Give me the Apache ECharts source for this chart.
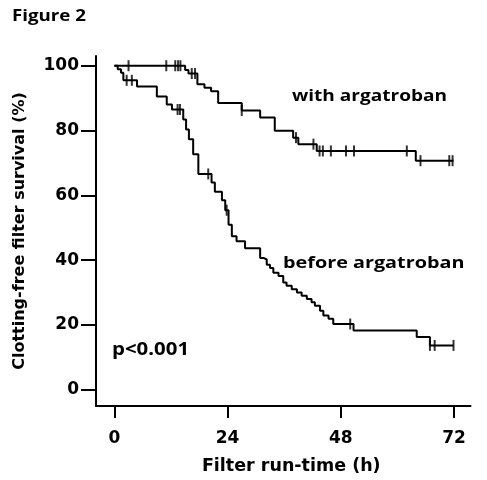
<!DOCTYPE html>
<html>
<head>
<meta charset="utf-8">
<script src="https://cdn.jsdelivr.net/npm/echarts@6/dist/echarts.min.js"></script>
<style>
html,body{margin:0;padding:0;background:#fff;}
#c{width:487px;height:480px;}
</style>
</head>
<body>
<div id="c"></div>
<script>
// X-axis tick labels (hours) and Y-axis tick labels (%)
var xTicks = [0, 24, 48, 72];
var yTicks = [0, 20, 40, 60, 80, 100];

// "with argatroban" Kaplan-Meier steps (time h, survival % after step)
var argTime = [0, 15.0, 15.7, 17.6, 19.1, 20.5, 22.0, 27.0, 30.9, 34.0, 37.9, 39.0, 42.9, 63.9, 71.9];
var argSurv = [100, 98.7, 97.6, 94.3, 93.2, 92.1, 88.5, 86.2, 84.0, 79.9, 77.8, 75.8, 73.7, 70.7, 70.7];
var argCensor = [3.0, 11.0, 12.9, 13.5, 14.0, 16.4, 17.1, 27.0, 38.5, 42.2, 43.5, 44.2, 45.9, 49.1, 50.8, 62.0, 64.9, 71.0, 71.7];

// "before argatroban" Kaplan-Meier steps
var befTime = [0, 0.7, 1.4, 1.9, 4.8, 9.0, 11.1, 12.2, 14.6, 15.2, 15.8, 16.7, 17.8, 20.6, 21.3, 22.8, 23.5, 24.2, 24.9, 25.9, 27.7, 30.9, 31.6, 32.3, 33.0, 33.7, 34.8, 35.8, 36.5, 37.6, 38.7, 39.7, 40.8, 41.8, 42.5, 43.6, 44.3, 45.4, 46.4, 50.7, 64.1, 66.9, 71.9];
var befSurv = [100, 98.9, 97.8, 95.5, 93.6, 90.5, 88.0, 86.5, 83.4, 80.3, 77.3, 72.7, 66.6, 64.0, 61.1, 58.5, 55.4, 50.9, 47.4, 45.8, 43.7, 40.7, 40.2, 38.6, 37.6, 36.1, 35.1, 33.1, 32.1, 31.0, 30.0, 29.0, 28.0, 27.0, 25.9, 24.4, 22.9, 21.9, 20.3, 18.3, 16.3, 13.7, 13.7];
var befCensor = [2.6, 3.7, 13.4, 13.9, 19.9, 23.8, 50.0, 66.9, 67.9, 71.9];

function zip(t, s) { return t.map(function (v, i) { return [v, s[i]]; }); }
function survAt(t, s, x) {
  var v = s[0];
  for (var i = 0; i < t.length; i++) { if (t[i] <= x) v = s[i]; }
  return v;
}
function marks(c, t, s) { return c.map(function (x) { return [x, survAt(t, s, x)]; }); }

var AX_FONT = '"DejaVu Sans", sans-serif';
var TXT_FONT = '"Open Sans", sans-serif';
var chart = echarts.init(document.getElementById('c'), null, {renderer: 'canvas'});
var lineStyle = {color: '#000', width: 2};
var censorStyle = {
  type: 'scatter', symbol: 'rect', symbolSize: [2, 11],
  itemStyle: {color: '#000'}, silent: true, z: 3
};
function label(text, left, top, size, sx) {
  return {type: 'text', left: left, top: top, scaleX: sx || 1.2,
    style: {text: text, fontSize: size, fontWeight: 'bold', fontFamily: TXT_FONT, fill: '#000'}};
}
chart.setOption({
  animation: false,
  backgroundColor: '#fff',
  grid: {left: 96, right: 16.5, top: 56, bottom: 70.3, containLabel: false},
  xAxis: {
    type: 'value', min: -3.9, max: 75.5,
    splitLine: {show: false},
    axisLine: {show: true, onZero: false, lineStyle: {color: '#000', width: 2}},
    axisTick: {show: true, customValues: xTicks, length: 12, lineStyle: {color: '#000', width: 2}},
    axisLabel: {customValues: xTicks, color: '#000', fontWeight: 'bold', fontSize: 17, fontFamily: AX_FONT, margin: 20, padding: [4, 0, 0, 0]},
    name: 'Filter run-time (h)', nameLocation: 'middle', nameGap: 51,
    nameTextStyle: {color: '#000', fontWeight: 'bold', fontSize: 17.5, fontFamily: AX_FONT, padding: [0, 0, 0, 16]}
  },
  yAxis: {
    type: 'value', min: -5, max: 103,
    splitLine: {show: false},
    axisLine: {show: true, onZero: false, lineStyle: {color: '#000', width: 2}},
    axisTick: {show: true, customValues: yTicks, length: 15, lineStyle: {color: '#000', width: 2}},
    axisLabel: {customValues: yTicks, color: '#000', fontWeight: 'bold', fontSize: 17, fontFamily: AX_FONT, margin: 17, padding: [7, 0, 0, 0]},
    name: 'Clotting-free filter survival (%)', nameLocation: 'middle', nameGap: 68,
    nameTextStyle: {color: '#000', fontWeight: 'bold', fontSize: 16, fontFamily: AX_FONT}
  },
  series: [
    {type: 'line', step: 'end', data: zip(argTime, argSurv), showSymbol: false, lineStyle: lineStyle, silent: true, z: 2},
    {type: 'line', step: 'end', data: zip(befTime, befSurv), showSymbol: false, lineStyle: lineStyle, silent: true, z: 2},
    Object.assign({data: marks(argCensor, argTime, argSurv)}, censorStyle),
    Object.assign({data: marks(befCensor, befTime, befSurv)}, censorStyle)
  ],
  graphic: [
    label('Figure 2', 12, 8, 16, 1.17),
    label('with argatroban', 292, 88, 16, 1.19),
    label('before argatroban', 283, 255, 16.5, 1.2),
    label('p<0.001', 112, 342, 17, 1.2)
  ]
});
</script>
</body>
</html>
